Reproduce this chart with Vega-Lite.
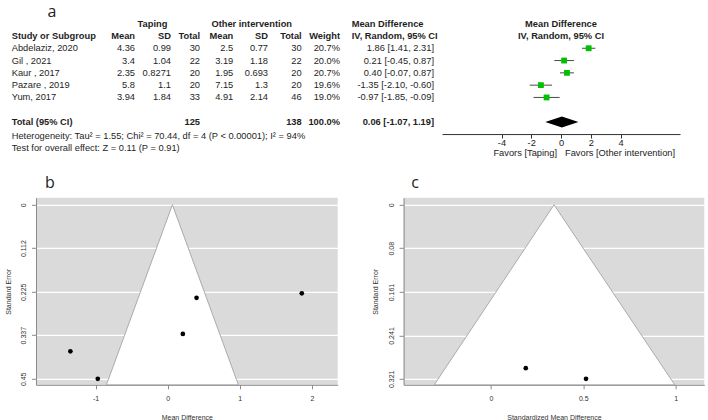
{
  "$schema": "https://vega.github.io/schema/vega-lite/v6.json",
  "padding": {"left": 4, "top": 3.5, "right": 0, "bottom": 0},
  "background": "white",
  "config": {
    "view": {"stroke": null},
    "text": {"font": "Liberation Sans"},
    "axis": {"labelFont": "Liberation Sans", "titleFont": "Liberation Sans"}
  },
  "datasets": {
    "cells": [
      {"row": "h1", "col": 10, "text": "Taping"},
      {"row": "h1", "col": 11, "text": "Other intervention"},
      {"row": "h1", "col": 9, "text": "Mean Difference"},
      {"row": "h1", "col": 12, "text": "Mean Difference"},
      {"row": "h2", "col": 0, "text": "Study or Subgroup"},
      {"row": "h2", "col": 1, "text": "Mean"},
      {"row": "h2", "col": 2, "text": "SD"},
      {"row": "h2", "col": 3, "text": "Total"},
      {"row": "h2", "col": 4, "text": "Mean"},
      {"row": "h2", "col": 5, "text": "SD"},
      {"row": "h2", "col": 6, "text": "Total"},
      {"row": "h2", "col": 7, "text": "Weight"},
      {"row": "h2", "col": 9, "text": "IV, Random, 95% CI"},
      {"row": "h2", "col": 12, "text": "IV, Random, 95% CI"},
      {"row": "s1", "col": 0, "text": "Abdelaziz, 2020"},
      {"row": "s1", "col": 1, "text": "4.36"},
      {"row": "s1", "col": 2, "text": "0.99"},
      {"row": "s1", "col": 3, "text": "30"},
      {"row": "s1", "col": 4, "text": "2.5"},
      {"row": "s1", "col": 5, "text": "0.77"},
      {"row": "s1", "col": 6, "text": "30"},
      {"row": "s1", "col": 7, "text": "20.7%"},
      {"row": "s1", "col": 8, "text": "1.86 [1.41, 2.31]"},
      {"row": "s2", "col": 0, "text": "Gil , 2021"},
      {"row": "s2", "col": 1, "text": "3.4"},
      {"row": "s2", "col": 2, "text": "1.04"},
      {"row": "s2", "col": 3, "text": "22"},
      {"row": "s2", "col": 4, "text": "3.19"},
      {"row": "s2", "col": 5, "text": "1.18"},
      {"row": "s2", "col": 6, "text": "22"},
      {"row": "s2", "col": 7, "text": "20.0%"},
      {"row": "s2", "col": 8, "text": "0.21 [-0.45, 0.87]"},
      {"row": "s3", "col": 0, "text": "Kaur , 2017"},
      {"row": "s3", "col": 1, "text": "2.35"},
      {"row": "s3", "col": 2, "text": "0.8271"},
      {"row": "s3", "col": 3, "text": "20"},
      {"row": "s3", "col": 4, "text": "1.95"},
      {"row": "s3", "col": 5, "text": "0.693"},
      {"row": "s3", "col": 6, "text": "20"},
      {"row": "s3", "col": 7, "text": "20.7%"},
      {"row": "s3", "col": 8, "text": "0.40 [-0.07, 0.87]"},
      {"row": "s4", "col": 0, "text": "Pazare , 2019"},
      {"row": "s4", "col": 1, "text": "5.8"},
      {"row": "s4", "col": 2, "text": "1.1"},
      {"row": "s4", "col": 3, "text": "20"},
      {"row": "s4", "col": 4, "text": "7.15"},
      {"row": "s4", "col": 5, "text": "1.3"},
      {"row": "s4", "col": 6, "text": "20"},
      {"row": "s4", "col": 7, "text": "19.6%"},
      {"row": "s4", "col": 8, "text": "-1.35 [-2.10, -0.60]"},
      {"row": "s5", "col": 0, "text": "Yum, 2017"},
      {"row": "s5", "col": 1, "text": "3.94"},
      {"row": "s5", "col": 2, "text": "1.84"},
      {"row": "s5", "col": 3, "text": "33"},
      {"row": "s5", "col": 4, "text": "4.91"},
      {"row": "s5", "col": 5, "text": "2.14"},
      {"row": "s5", "col": 6, "text": "46"},
      {"row": "s5", "col": 7, "text": "19.0%"},
      {"row": "s5", "col": 8, "text": "-0.97 [-1.85, -0.09]"},
      {"row": "tot", "col": 0, "text": "Total (95% CI)"},
      {"row": "tot", "col": 3, "text": "125"},
      {"row": "tot", "col": 6, "text": "138"},
      {"row": "tot", "col": 7, "text": "100.0%"},
      {"row": "tot", "col": 8, "text": "0.06 [-1.07, 1.19]"},
      {"row": "het", "col": 0, "text": "Heterogeneity: Tau² = 1.55; Chi² = 70.44, df = 4 (P < 0.00001); I² = 94%"},
      {"row": "test", "col": 0, "text": "Test for overall effect: Z = 0.11 (P = 0.91)"}
    ],
    "studies": [
      {"row": "s1", "study": "Abdelaziz, 2020", "md": 1.86, "lo": 1.41, "hi": 2.31, "se": 0.229},
      {"row": "s2", "study": "Gil , 2021", "md": 0.21, "lo": -0.45, "hi": 0.87, "se": 0.334},
      {"row": "s3", "study": "Kaur , 2017", "md": 0.40, "lo": -0.07, "hi": 0.87, "se": 0.2405},
      {"row": "s4", "study": "Pazare , 2019", "md": -1.35, "lo": -2.10, "hi": -0.60, "se": 0.379},
      {"row": "s5", "study": "Yum, 2017", "md": -0.97, "lo": -1.85, "hi": -0.09, "se": 0.45}
    ],
    "pooled": [{"row": "tot", "md": 0.06, "lo": -1.07, "hi": 1.19}],
    "favors": [
      {"row": "test", "side": "taping", "text": "Favors [Taping]"},
      {"row": "test", "side": "other", "text": "Favors [Other intervention]"}
    ],
    "funnelB": [{"se": 0, "lo": 0.065, "hi": 0.065}, {"se": 0.4655, "lo": -0.85, "hi": 0.98}],
    "funnelC": [{"se": 0, "lo": 0.342, "hi": 0.342}, {"se": 0.332, "lo": -0.306, "hi": 0.995}],
    "smd": [{"smd": 0.189, "se": 0.3014}, {"smd": 0.515, "se": 0.321}]
  },
  "concat": [
    {
      "width": 646,
      "height": 135.3,
      "title": {"text": "a", "anchor": "start", "frame": "group", "dx": 11.5, "dy": 16.9, "offset": 1.75, "baseline": "alphabetic", "fontSize": 16, "fontWeight": "normal", "font": "Open Sans", "color": "#222"},
      "resolve": {"scale": {"x": "independent"}},
      "layer": [
        {
          "layer": [
            {
              "mark": {"type": "rule", "color": "#9a9a9a", "strokeWidth": 1.4},
              "encoding": {
                "x": {"datum": -1, "type": "quantitative", "scale": {"domain": [-1,0,1,2,3,4,5,6,7,8,9,10,11,12,13], "range": [-32,-24.3,99,135,164,197.3,232,265.7,304,398,315.7,116.5,215.7,525,646], "nice": false, "zero": false}, "axis": null},
                "x2": {"datum": 13},
                "y": {"datum": "s1", "type": "nominal", "bandPosition": 0, "scale": {"type": "band", "domain": ["h1","h2","s1","s2","s3","s4","s5","gap","tot","het","test"], "paddingInner": 0, "paddingOuter": 0}, "axis": null}
              }
            },
            {
              "data": {"name": "cells"},
              "transform": [{"filter": "datum.col == 0 && indexof(['s1','s2','s3','s4','s5'], datum.row) >= 0"}],
              "mark": {"type": "text", "align": "left", "baseline": "middle", "fontSize": 9.3, "color": "#1e1e1e"},
              "encoding": {
                "x": {"field": "col", "type": "quantitative", "scale": {"domain": [-1,0,1,2,3,4,5,6,7,8,9,10,11,12,13], "range": [-32,-24.3,99,135,164,197.3,232,265.7,304,398,315.7,116.5,215.7,525,646], "nice": false, "zero": false}, "axis": null},
                "y": {"field": "row", "type": "nominal", "scale": {"type": "band", "domain": ["h1","h2","s1","s2","s3","s4","s5","gap","tot","het","test"], "paddingInner": 0, "paddingOuter": 0}, "axis": null},
                "text": {"field": "text"}
              }
            },
            {
              "data": {"name": "cells"},
              "transform": [{"filter": "datum.col == 0 && indexof(['het','test'], datum.row) >= 0"}],
              "mark": {"type": "text", "align": "left", "baseline": "middle", "fontSize": 9.3, "color": "#1e1e1e", "dy": 1.5},
              "encoding": {
                "x": {"field": "col", "type": "quantitative", "scale": {"domain": [-1,0,1,2,3,4,5,6,7,8,9,10,11,12,13], "range": [-32,-24.3,99,135,164,197.3,232,265.7,304,398,315.7,116.5,215.7,525,646], "nice": false, "zero": false}, "axis": null},
                "y": {"field": "row", "type": "nominal", "scale": {"type": "band", "domain": ["h1","h2","s1","s2","s3","s4","s5","gap","tot","het","test"], "paddingInner": 0, "paddingOuter": 0}, "axis": null},
                "text": {"field": "text"}
              }
            },
            {
              "data": {"name": "cells"},
              "transform": [{"filter": "(datum.col == 0 || datum.col == 9) && indexof(['h1','h2','tot'], datum.row) >= 0"}],
              "mark": {"type": "text", "align": "left", "baseline": "middle", "fontSize": 9.3, "fontWeight": "bold", "color": "#1e1e1e"},
              "encoding": {
                "x": {"field": "col", "type": "quantitative", "scale": {"domain": [-1,0,1,2,3,4,5,6,7,8,9,10,11,12,13], "range": [-32,-24.3,99,135,164,197.3,232,265.7,304,398,315.7,116.5,215.7,525,646], "nice": false, "zero": false}, "axis": null},
                "y": {"field": "row", "type": "nominal", "scale": {"type": "band", "domain": ["h1","h2","s1","s2","s3","s4","s5","gap","tot","het","test"], "paddingInner": 0, "paddingOuter": 0}, "axis": null},
                "text": {"field": "text"}
              }
            },
            {
              "data": {"name": "cells"},
              "transform": [{"filter": "datum.col >= 1 && datum.col <= 8 && indexof(['s1','s2','s3','s4','s5'], datum.row) >= 0"}],
              "mark": {"type": "text", "align": "right", "baseline": "middle", "fontSize": 9.3, "color": "#1e1e1e"},
              "encoding": {
                "x": {"field": "col", "type": "quantitative", "scale": {"domain": [-1,0,1,2,3,4,5,6,7,8,9,10,11,12,13], "range": [-32,-24.3,99,135,164,197.3,232,265.7,304,398,315.7,116.5,215.7,525,646], "nice": false, "zero": false}, "axis": null},
                "y": {"field": "row", "type": "nominal", "scale": {"type": "band", "domain": ["h1","h2","s1","s2","s3","s4","s5","gap","tot","het","test"], "paddingInner": 0, "paddingOuter": 0}, "axis": null},
                "text": {"field": "text"}
              }
            },
            {
              "data": {"name": "cells"},
              "transform": [{"filter": "datum.col >= 1 && datum.col <= 8 && indexof(['h2','tot'], datum.row) >= 0"}],
              "mark": {"type": "text", "align": "right", "baseline": "middle", "fontSize": 9.3, "fontWeight": "bold", "color": "#1e1e1e"},
              "encoding": {
                "x": {"field": "col", "type": "quantitative", "scale": {"domain": [-1,0,1,2,3,4,5,6,7,8,9,10,11,12,13], "range": [-32,-24.3,99,135,164,197.3,232,265.7,304,398,315.7,116.5,215.7,525,646], "nice": false, "zero": false}, "axis": null},
                "y": {"field": "row", "type": "nominal", "scale": {"type": "band", "domain": ["h1","h2","s1","s2","s3","s4","s5","gap","tot","het","test"], "paddingInner": 0, "paddingOuter": 0}, "axis": null},
                "text": {"field": "text"}
              }
            },
            {
              "data": {"name": "cells"},
              "transform": [{"filter": "datum.col >= 10"}],
              "mark": {"type": "text", "align": "center", "baseline": "middle", "fontSize": 9.3, "fontWeight": "bold", "color": "#1e1e1e"},
              "encoding": {
                "x": {"field": "col", "type": "quantitative", "scale": {"domain": [-1,0,1,2,3,4,5,6,7,8,9,10,11,12,13], "range": [-32,-24.3,99,135,164,197.3,232,265.7,304,398,315.7,116.5,215.7,525,646], "nice": false, "zero": false}, "axis": null},
                "y": {"field": "row", "type": "nominal", "scale": {"type": "band", "domain": ["h1","h2","s1","s2","s3","s4","s5","gap","tot","het","test"], "paddingInner": 0, "paddingOuter": 0}, "axis": null},
                "text": {"field": "text"}
              }
            }
          ]
        },
        {
          "layer": [
            {
              "mark": {"type": "rule", "color": "#8c8c8c", "strokeWidth": 1.2},
              "encoding": {
                "x": {"datum": 0, "type": "quantitative", "scale": {"domain": [-8, 8], "range": [406, 644], "nice": false, "zero": false}, "axis": {"orient": "bottom", "values": [-4,-2,0,2,4], "labelExpr": "datum.value", "offset": -18.75, "tickSize": 4, "labelPadding": 0.5, "labelFontSize": 9.3, "labelColor": "#222", "domainColor": "#333", "tickColor": "#333", "domainWidth": 1, "tickWidth": 1, "grid": false, "title": null, "labelFlush": false}},
                "y": {"datum": "s1", "type": "nominal", "bandPosition": 0, "scale": {"type": "band", "domain": ["h1","h2","s1","s2","s3","s4","s5","gap","tot","het","test"], "paddingInner": 0, "paddingOuter": 0}, "axis": null},
                "y2": {"datum": "het"}
              }
            },
            {
              "data": {"name": "studies"},
              "mark": {"type": "rule", "color": "#4a4a4a", "strokeWidth": 1},
              "encoding": {
                "x": {"field": "lo", "type": "quantitative", "scale": {"domain": [-8, 8], "range": [406, 644], "nice": false, "zero": false}, "axis": {"orient": "bottom", "values": [-4,-2,0,2,4], "labelExpr": "datum.value", "offset": -18.75, "tickSize": 4, "labelPadding": 0.5, "labelFontSize": 9.3, "labelColor": "#222", "domainColor": "#333", "tickColor": "#333", "domainWidth": 1, "tickWidth": 1, "grid": false, "title": null, "labelFlush": false}},
                "x2": {"field": "hi"},
                "y": {"field": "row", "type": "nominal", "scale": {"type": "band", "domain": ["h1","h2","s1","s2","s3","s4","s5","gap","tot","het","test"], "paddingInner": 0, "paddingOuter": 0}, "axis": null}
              }
            },
            {
              "data": {"name": "studies"},
              "mark": {"type": "point", "shape": "square", "filled": true, "color": "#00c000", "opacity": 1, "size": 34},
              "encoding": {
                "x": {"field": "md", "type": "quantitative", "scale": {"domain": [-8, 8], "range": [406, 644], "nice": false, "zero": false}, "axis": {"orient": "bottom", "values": [-4,-2,0,2,4], "labelExpr": "datum.value", "offset": -18.75, "tickSize": 4, "labelPadding": 0.5, "labelFontSize": 9.3, "labelColor": "#222", "domainColor": "#333", "tickColor": "#333", "domainWidth": 1, "tickWidth": 1, "grid": false, "title": null, "labelFlush": false}},
                "y": {"field": "row", "type": "nominal", "scale": {"type": "band", "domain": ["h1","h2","s1","s2","s3","s4","s5","gap","tot","het","test"], "paddingInner": 0, "paddingOuter": 0}, "axis": null}
              }
            },
            {
              "data": {"name": "pooled"},
              "mark": {"type": "point", "shape": "M-1,0L0,-0.33L1,0L0,0.33Z", "filled": true, "color": "#000000", "opacity": 1, "size": 1100},
              "encoding": {
                "x": {"field": "md", "type": "quantitative", "scale": {"domain": [-8, 8], "range": [406, 644], "nice": false, "zero": false}, "axis": {"orient": "bottom", "values": [-4,-2,0,2,4], "labelExpr": "datum.value", "offset": -18.75, "tickSize": 4, "labelPadding": 0.5, "labelFontSize": 9.3, "labelColor": "#222", "domainColor": "#333", "tickColor": "#333", "domainWidth": 1, "tickWidth": 1, "grid": false, "title": null, "labelFlush": false}},
                "y": {"field": "row", "type": "nominal", "scale": {"type": "band", "domain": ["h1","h2","s1","s2","s3","s4","s5","gap","tot","het","test"], "paddingInner": 0, "paddingOuter": 0}, "axis": null}
              }
            },
            {
              "data": {"name": "favors"},
              "transform": [{"filter": "datum.side == 'taping'"}],
              "mark": {"type": "text", "align": "right", "baseline": "middle", "dx": -4, "dy": 6, "fontSize": 9.3, "color": "#222"},
              "encoding": {
                "x": {"datum": 0, "type": "quantitative", "scale": {"domain": [-8, 8], "range": [406, 644], "nice": false, "zero": false}, "axis": {"orient": "bottom", "values": [-4,-2,0,2,4], "labelExpr": "datum.value", "offset": -18.75, "tickSize": 4, "labelPadding": 0.5, "labelFontSize": 9.3, "labelColor": "#222", "domainColor": "#333", "tickColor": "#333", "domainWidth": 1, "tickWidth": 1, "grid": false, "title": null, "labelFlush": false}},
                "y": {"field": "row", "type": "nominal", "scale": {"type": "band", "domain": ["h1","h2","s1","s2","s3","s4","s5","gap","tot","het","test"], "paddingInner": 0, "paddingOuter": 0}, "axis": null},
                "text": {"field": "text"}
              }
            },
            {
              "data": {"name": "favors"},
              "transform": [{"filter": "datum.side == 'other'"}],
              "mark": {"type": "text", "align": "left", "baseline": "middle", "dx": 4, "dy": 6, "fontSize": 9.3, "color": "#222"},
              "encoding": {
                "x": {"datum": 0, "type": "quantitative", "scale": {"domain": [-8, 8], "range": [406, 644], "nice": false, "zero": false}, "axis": {"orient": "bottom", "values": [-4,-2,0,2,4], "labelExpr": "datum.value", "offset": -18.75, "tickSize": 4, "labelPadding": 0.5, "labelFontSize": 9.3, "labelColor": "#222", "domainColor": "#333", "tickColor": "#333", "domainWidth": 1, "tickWidth": 1, "grid": false, "title": null, "labelFlush": false}},
                "y": {"field": "row", "type": "nominal", "scale": {"type": "band", "domain": ["h1","h2","s1","s2","s3","s4","s5","gap","tot","het","test"], "paddingInner": 0, "paddingOuter": 0}, "axis": null},
                "text": {"field": "text"}
              }
            }
          ]
        }
      ]
    },
    {
      "hconcat": [
        {
          "width": 301.7,
          "height": 187,
          "view": {"fill": "#dadada", "stroke": null},
          "title": {"text": "b", "anchor": "start", "frame": "group", "dx": 9, "dy": 17.5, "offset": 11, "baseline": "alphabetic", "fontSize": 16, "fontWeight": "normal", "font": "Open Sans", "color": "#222"},
          "layer": [
            {
              "data": {"name": "funnelB"},
              "mark": {"type": "area", "orient": "horizontal", "fill": "white", "opacity": 1, "stroke": "#9a9a9a", "strokeWidth": 0.8},
              "encoding": {
                "y": {"field": "se", "type": "quantitative", "scale": {"domain": [-0.0181, 0.4655], "reverse": true, "nice": false, "zero": false}, "axis": {"values": [0, 0.112, 0.225, 0.337, 0.45], "labelExpr": "datum.value", "title": "Standard Error", "labelAngle": 270, "labelAlign": "center", "labelBaseline": "bottom", "tickSize": 4.5, "labelPadding": 5, "titlePadding": 8.5, "grid": true, "gridColor": "#ffffff", "gridWidth": 1.2, "domainColor": "#8a8a8a", "tickColor": "#8a8a8a", "labelColor": "#333", "titleColor": "#333", "labelFontSize": 7, "titleFontSize": 7, "titleFontWeight": "normal"}},
                "x": {"field": "lo", "type": "quantitative", "scale": {"domain": [-1.827, 2.358], "nice": false, "zero": false}, "axis": {"values": [-1, 0, 1, 2], "labelExpr": "datum.value", "title": "Mean Difference", "tickSize": 4, "labelPadding": 6, "titlePadding": 11.5, "grid": false, "domainColor": "#8a8a8a", "tickColor": "#8a8a8a", "labelColor": "#333", "titleColor": "#333", "labelFontSize": 7, "titleFontSize": 7, "titleFontWeight": "normal", "labelFlush": false}},
                "x2": {"field": "hi"}
              }
            },
            {
              "mark": {"type": "rule", "color": "#9a9a9a", "strokeWidth": 0.9, "strokeDash": [1.5, 1.5]},
              "encoding": {
                "x": {"datum": 0.065, "type": "quantitative", "scale": {"domain": [-1.827, 2.358], "nice": false, "zero": false}, "axis": {"values": [-1, 0, 1, 2], "labelExpr": "datum.value", "title": "Mean Difference", "tickSize": 4, "labelPadding": 6, "titlePadding": 11.5, "grid": false, "domainColor": "#8a8a8a", "tickColor": "#8a8a8a", "labelColor": "#333", "titleColor": "#333", "labelFontSize": 7, "titleFontSize": 7, "titleFontWeight": "normal", "labelFlush": false}},
                "y": {"datum": 0, "type": "quantitative", "scale": {"domain": [-0.0181, 0.4655], "reverse": true, "nice": false, "zero": false}, "axis": {"values": [0, 0.112, 0.225, 0.337, 0.45], "labelExpr": "datum.value", "title": "Standard Error", "labelAngle": 270, "labelAlign": "center", "labelBaseline": "bottom", "tickSize": 4.5, "labelPadding": 5, "titlePadding": 8.5, "grid": true, "gridColor": "#ffffff", "gridWidth": 1.2, "domainColor": "#8a8a8a", "tickColor": "#8a8a8a", "labelColor": "#333", "titleColor": "#333", "labelFontSize": 7, "titleFontSize": 7, "titleFontWeight": "normal"}},
                "y2": {"datum": 0.4655}
              }
            },
            {
              "data": {"name": "studies"},
              "mark": {"type": "point", "shape": "circle", "filled": true, "color": "#000000", "opacity": 1, "size": 22},
              "encoding": {
                "x": {"field": "md", "type": "quantitative", "scale": {"domain": [-1.827, 2.358], "nice": false, "zero": false}, "axis": {"values": [-1, 0, 1, 2], "labelExpr": "datum.value", "title": "Mean Difference", "tickSize": 4, "labelPadding": 6, "titlePadding": 11.5, "grid": false, "domainColor": "#8a8a8a", "tickColor": "#8a8a8a", "labelColor": "#333", "titleColor": "#333", "labelFontSize": 7, "titleFontSize": 7, "titleFontWeight": "normal", "labelFlush": false}},
                "y": {"field": "se", "type": "quantitative", "scale": {"domain": [-0.0181, 0.4655], "reverse": true, "nice": false, "zero": false}, "axis": {"values": [0, 0.112, 0.225, 0.337, 0.45], "labelExpr": "datum.value", "title": "Standard Error", "labelAngle": 270, "labelAlign": "center", "labelBaseline": "bottom", "tickSize": 4.5, "labelPadding": 5, "titlePadding": 8.5, "grid": true, "gridColor": "#ffffff", "gridWidth": 1.2, "domainColor": "#8a8a8a", "tickColor": "#8a8a8a", "labelColor": "#333", "titleColor": "#333", "labelFontSize": 7, "titleFontSize": 7, "titleFontWeight": "normal"}}
              }
            }
          ]
        },
        {
          "width": 300.7,
          "height": 187,
          "view": {"fill": "#dadada", "stroke": null},
          "title": {"text": "c", "anchor": "start", "frame": "group", "dx": 7.7, "dy": 17.5, "offset": 11, "baseline": "alphabetic", "fontSize": 16, "fontWeight": "normal", "font": "Open Sans", "color": "#222"},
          "layer": [
            {
              "data": {"name": "funnelC"},
              "mark": {"type": "area", "orient": "horizontal", "fill": "white", "opacity": 1, "stroke": "#9a9a9a", "strokeWidth": 0.8},
              "encoding": {
                "y": {"field": "se", "type": "quantitative", "scale": {"domain": [-0.0129, 0.332], "reverse": true, "nice": false, "zero": false}, "axis": {"values": [0, 0.08, 0.161, 0.241, 0.321], "labelExpr": "datum.value", "title": "Standard Error", "labelAngle": 270, "labelAlign": "center", "labelBaseline": "bottom", "tickSize": 4.5, "labelPadding": 5, "titlePadding": 8.5, "grid": true, "gridColor": "#ffffff", "gridWidth": 1.2, "domainColor": "#8a8a8a", "tickColor": "#8a8a8a", "labelColor": "#333", "titleColor": "#333", "labelFontSize": 7, "titleFontSize": 7, "titleFontWeight": "normal"}},
                "x": {"field": "lo", "type": "quantitative", "scale": {"domain": [-0.472, 1.155], "nice": false, "zero": false}, "axis": {"values": [0, 0.5, 1], "labelExpr": "datum.value", "title": "Standardized Mean Difference", "tickSize": 4, "labelPadding": 6, "titlePadding": 11.5, "grid": false, "domainColor": "#8a8a8a", "tickColor": "#8a8a8a", "labelColor": "#333", "titleColor": "#333", "labelFontSize": 7, "titleFontSize": 7, "titleFontWeight": "normal", "labelFlush": false}},
                "x2": {"field": "hi"}
              }
            },
            {
              "mark": {"type": "rule", "color": "#9a9a9a", "strokeWidth": 0.9, "strokeDash": [1.5, 1.5]},
              "encoding": {
                "x": {"datum": 0.342, "type": "quantitative", "scale": {"domain": [-0.472, 1.155], "nice": false, "zero": false}, "axis": {"values": [0, 0.5, 1], "labelExpr": "datum.value", "title": "Standardized Mean Difference", "tickSize": 4, "labelPadding": 6, "titlePadding": 11.5, "grid": false, "domainColor": "#8a8a8a", "tickColor": "#8a8a8a", "labelColor": "#333", "titleColor": "#333", "labelFontSize": 7, "titleFontSize": 7, "titleFontWeight": "normal", "labelFlush": false}},
                "y": {"datum": 0, "type": "quantitative", "scale": {"domain": [-0.0129, 0.332], "reverse": true, "nice": false, "zero": false}, "axis": {"values": [0, 0.08, 0.161, 0.241, 0.321], "labelExpr": "datum.value", "title": "Standard Error", "labelAngle": 270, "labelAlign": "center", "labelBaseline": "bottom", "tickSize": 4.5, "labelPadding": 5, "titlePadding": 8.5, "grid": true, "gridColor": "#ffffff", "gridWidth": 1.2, "domainColor": "#8a8a8a", "tickColor": "#8a8a8a", "labelColor": "#333", "titleColor": "#333", "labelFontSize": 7, "titleFontSize": 7, "titleFontWeight": "normal"}},
                "y2": {"datum": 0.332}
              }
            },
            {
              "data": {"name": "smd"},
              "mark": {"type": "point", "shape": "circle", "filled": true, "color": "#000000", "opacity": 1, "size": 22},
              "encoding": {
                "x": {"field": "smd", "type": "quantitative", "scale": {"domain": [-0.472, 1.155], "nice": false, "zero": false}, "axis": {"values": [0, 0.5, 1], "labelExpr": "datum.value", "title": "Standardized Mean Difference", "tickSize": 4, "labelPadding": 6, "titlePadding": 11.5, "grid": false, "domainColor": "#8a8a8a", "tickColor": "#8a8a8a", "labelColor": "#333", "titleColor": "#333", "labelFontSize": 7, "titleFontSize": 7, "titleFontWeight": "normal", "labelFlush": false}},
                "y": {"field": "se", "type": "quantitative", "scale": {"domain": [-0.0129, 0.332], "reverse": true, "nice": false, "zero": false}, "axis": {"values": [0, 0.08, 0.161, 0.241, 0.321], "labelExpr": "datum.value", "title": "Standard Error", "labelAngle": 270, "labelAlign": "center", "labelBaseline": "bottom", "tickSize": 4.5, "labelPadding": 5, "titlePadding": 8.5, "grid": true, "gridColor": "#ffffff", "gridWidth": 1.2, "domainColor": "#8a8a8a", "tickColor": "#8a8a8a", "labelColor": "#333", "titleColor": "#333", "labelFontSize": 7, "titleFontSize": 7, "titleFontWeight": "normal"}}
              }
            }
          ]
        }
      ],
      "spacing": 33.6
    }
  ],
  "columns": 1,
  "align": "none",
  "spacing": 16.3
}
